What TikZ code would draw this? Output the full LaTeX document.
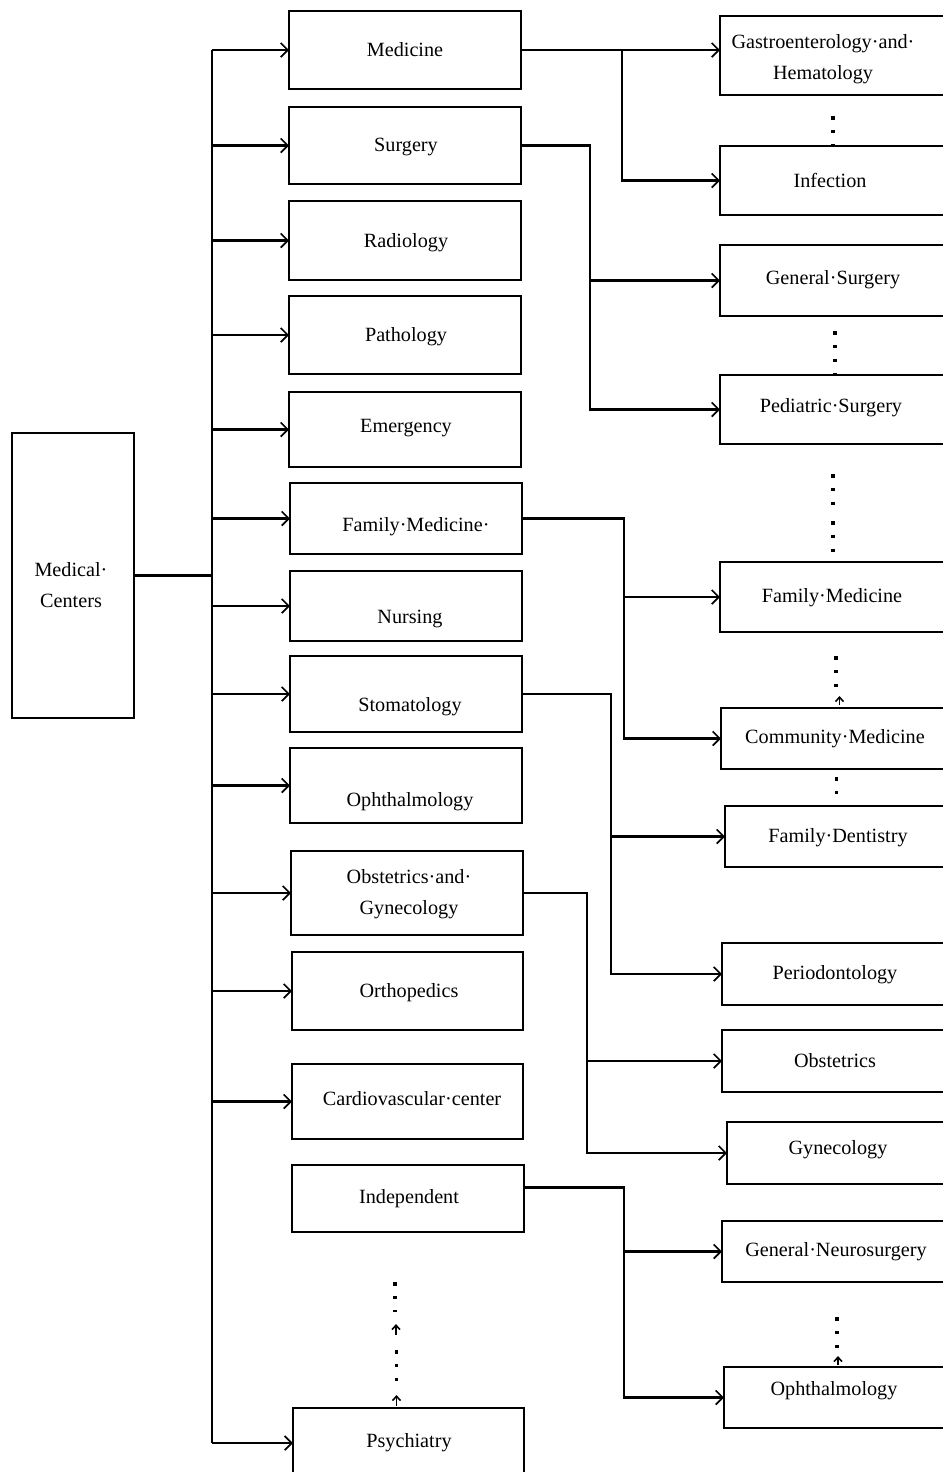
\documentclass[tikz,border=0pt]{standalone}
\usepackage{fontspec}
\setmainfont{Liberation Serif}
\usetikzlibrary{arrows.meta,fit,calc}
\begin{document}
\begin{tikzpicture}[x=0.02cm,y=-0.02cm,
  box/.style={draw,rectangle,line width=1.3pt,inner sep=0pt,outer sep=0pt},
  lbl/.style={font=\fontsize{11.5}{17.5}\selectfont,align=center,inner sep=0pt},
  conn/.style={line width=1.2pt},
  arr/.style={conn,-{Straight Barb[length=4pt,width=8pt,line width=1pt]}},
  dotline/.style={line width=2pt,dash pattern=on 2pt off 5.9pt},
  uptip/.style={line width=0.7pt,-{Straight Barb[length=2.5pt,width=4.5pt,line width=0.9pt]}}
]
\clip (0,0) rectangle (943,1472);

% root
\node[box,fit={(12,433) (134,718)}] (mc) {};
\node[lbl] (mcT) at (71,585) {Medical·\\Centers};

% departments
\node[box,fit={(289,11) (521,89)}]    (med) {};
\node[box,fit={(289,107) (521,184)}]  (surg) {};
\node[box,fit={(289,201) (521,280)}]  (rad) {};
\node[box,fit={(289,296) (521,374)}]  (path) {};
\node[box,fit={(289,392) (521,467)}]  (emer) {};
\node[box,fit={(290,483) (522,554)}]  (fam) {};
\node[box,fit={(290,571) (522,641)}]  (nurs) {};
\node[box,fit={(290,656) (522,732)}]  (stom) {};
\node[box,fit={(290,748) (522,823)}]  (oph) {};
\node[box,fit={(291,851) (523,935)}]  (obgyn) {};
\node[box,fit={(292,952) (523,1030)}] (ortho) {};
\node[box,fit={(292,1064) (523,1139)}] (cardio) {};
\node[box,fit={(292,1165) (524,1232)}] (indep) {};
\node[box,fit={(293,1408) (524,1478)}] (psy) {};

\node[lbl] (medT)    at (405,50)   {Medicine};
\node[lbl] (surgT)   at (406,147)  {Surgery};
\node[lbl] (radT)    at (406,243)  {Radiology};
\node[lbl] (pathT)   at (406,337)  {Pathology};
\node[lbl] (emerT)   at (406,428)  {Emergency};
\node[lbl] (famT)    at (416,527)  {Family·Medicine·};
\node[lbl] (nursT)   at (410,619)  {Nursing};
\node[lbl] (stomT)   at (410,707)  {Stomatology};
\node[lbl] (ophT)    at (410,802)  {Ophthalmology};
\node[lbl] (obgynT)  at (409,894)  {Obstetrics·and·\\Gynecology};
\node[lbl] (orthoT)  at (409,993)  {Orthopedics};
\node[lbl] (cardioT) at (412,1099) {Cardiovascular·center};
\node[lbl] (indepT)  at (409,1199) {Independent};
\node[lbl] (psyT)    at (409,1443) {Psychiatry};

% sub-departments
\node[box,fit={(720,16) (952,95)}]    (gastro) {};
\node[box,fit={(720,146) (952,215)}]  (infec) {};
\node[box,fit={(720,245) (952,316)}]  (gsurg) {};
\node[box,fit={(720,375) (952,444)}]  (psurg) {};
\node[box,fit={(720,562) (952,632)}]  (rfam) {};
\node[box,fit={(721,708) (952,769)}]  (comm) {};
\node[box,fit={(725,806) (952,867)}]  (dent) {};
\node[box,fit={(722,943) (952,1005)}] (perio) {};
\node[box,fit={(722,1030) (952,1092)}] (obst) {};
\node[box,fit={(727,1122) (952,1184)}] (gyn) {};
\node[box,fit={(722,1221) (952,1282)}] (neuro) {};
\node[box,fit={(724,1367) (952,1428)}] (roph) {};

\node[lbl] (gastroT) at (823,59)   {Gastroenterology·and·\\Hematology};
\node[lbl] (infecT)  at (830,180)  {Infection};
\node[lbl] (gsurgT)  at (833,280)  {General·Surgery};
\node[lbl] (psurgT)  at (831,408)  {Pediatric·Surgery};
\node[lbl] (rfamT)   at (832,598)  {Family·Medicine};
\node[lbl] (commT)   at (835,739)  {Community·Medicine};
\node[lbl] (dentT)   at (838,838)  {Family·Dentistry};
\node[lbl] (perioT)  at (835,975)  {Periodontology};
\node[lbl] (obstT)   at (835,1061) {Obstetrics};
\node[lbl] (gynT)    at (838,1150) {Gynecology};
\node[lbl] (neuroT)  at (836,1252) {General·Neurosurgery};
\node[lbl] (rophT)   at (834,1391) {Ophthalmology};

% root to trunk
\coordinate (trunk) at (212,0);
\draw[line width=2.2pt] (mc.east) -- (mc.east -| trunk);
\draw[conn] (trunk |- med.west) -- (trunk |- psy.west);
\foreach \b in {med,surg,rad,path,emer,fam,nurs,stom,oph,obgyn,ortho,cardio,psy}
  \draw[arr] (trunk |- \b.west) -- (\b.west);

% department to sub-department branches
\coordinate (jMed)  at (622,0);
\coordinate (jSurg) at (590,0);
\coordinate (jFam)  at (624,0);
\coordinate (jStom) at (611,0);
\coordinate (jOb)   at (587,0);
\coordinate (jInd)  at (624,0);

\draw[arr] (med.east) -- (med.east -| gastro.west);
\draw[arr] (med.east -| jMed) |- (infec.west);

\draw[arr] (surg.east) -| (jSurg |- psurg.west) -- (psurg.west);
\draw[arr] (jSurg |- gsurg.west) -- (gsurg.west);

\draw[arr] (fam.east) -| (jFam |- comm.west) -- (comm.west);
\draw[arr] (jFam |- rfam.west) -- (rfam.west);

\draw[arr] (stom.east) -| (jStom |- perio.west) -- (perio.west);
\draw[arr] (jStom |- dent.west) -- (dent.west);

\draw[arr] (obgyn.east) -| (jOb |- gyn.west) -- (gyn.west);
\draw[arr] (jOb |- obst.west) -- (obst.west);

\draw[arr] ($(indep.east)+(0,-11)$) -| (jInd |- roph.west) -- (roph.west);
\draw[arr] (jInd |- neuro.west) -- (neuro.west);

% ellipsis dots between boxes
\draw[dotline] ($(gastro.south)+(-3,21)$) -- ($(infec.north)+(-3,0)$);
\draw[dotline] ($(gsurg.south)+(-1,15)$) -- ($(psurg.north)+(-1,0)$);
\draw[dotline] ($(psurg.south)+(-3,30)$) -- ($(psurg.south)+(-3,62)$);
\draw[dotline] ($(psurg.south)+(-3,77)$) -- ($(rfam.north)+(-3,-8)$);
\draw[dotline] ($(rfam.south)+(0,24)$) -- ($(rfam.south)+(0,56)$);
\draw[uptip] ($(comm.north)+(3,-3)$) -- ($(comm.north)+(3,-12)$);
\draw[dotline] ($(comm.south)+(0,8)$) -- ($(dent.north)+(-2,-8)$);
\draw[dotline] ($(neuro.south)+(0,35)$) -- ($(neuro.south)+(0,66)$);
\draw[uptip] ($(roph.north)+(0,-2)$) -- ($(roph.north)+(0,-11)$);

\draw[dotline] ($(indep.south)+(-13,50)$) -- ($(indep.south)+(-13,80)$);
\draw[uptip] ($(indep.south)+(-12,103)$) -- ($(indep.south)+(-12,92)$);
\draw[dotline] ($(psy.north)+(-12,-58)$) -- ($(psy.north)+(-12,-26)$);
\draw[uptip] ($(psy.north)+(-12,-2)$) -- ($(psy.north)+(-12,-13)$);
\end{tikzpicture}
\end{document}
